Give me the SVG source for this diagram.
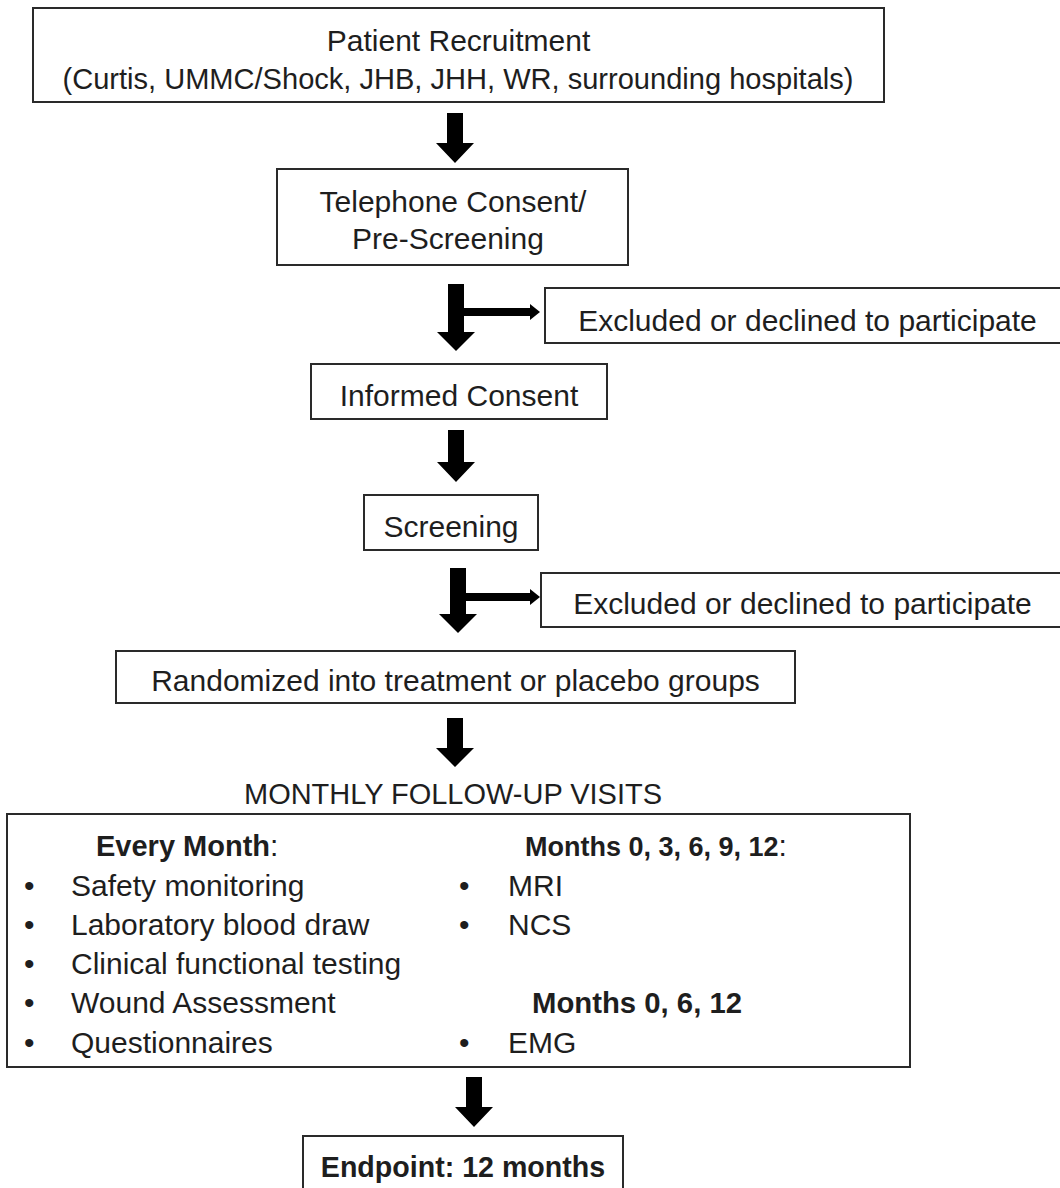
<svg xmlns="http://www.w3.org/2000/svg" width="1060" height="1188" viewBox="0 0 1060 1188">
<style>
.box{fill:#fff;stroke:#2a2a2a;stroke-width:2}
.t{font-family:"Liberation Sans",Arial,sans-serif;font-size:30px;fill:#1e1e1e}
.c{text-anchor:middle}
.b{font-weight:bold}
.arr{fill:#000}
</style>
<rect width="1060" height="1188" fill="#fff"/>
<g id="connectors">
<path class="arr" d="M447,113 H463 V143 H474 L455,163 L436,143 H447 Z"/>
<path class="arr" d="M448,284 H464 V332 H475 L456,351 L437,332 H448 Z"/>
<path class="arr" d="M464,308 H530 V304 L540,312 L530,320 V316 H464 Z"/>
<path class="arr" d="M448,430 H464 V462 H475 L456,482 L437,462 H448 Z"/>
<path class="arr" d="M450,568 H466 V614 H477 L458,633 L439,614 H450 Z"/>
<path class="arr" d="M466,593 H530 V589 L540,597 L530,605 V601 H466 Z"/>
<path class="arr" d="M447,718 H463 V748 H474 L455,767 L436,748 H447 Z"/>
<path class="arr" d="M466,1077 H482 V1107 H493 L474,1127 L455,1107 H466 Z"/>
</g>
<g id="recruitment">
<rect class="box" x="33" y="8" width="851" height="94"/>
<text class="t c" x="458.5" y="51">Patient Recruitment</text>
<text class="t c" x="458" y="89" textLength="791" lengthAdjust="spacingAndGlyphs">(Curtis, UMMC/Shock, JHB, JHH, WR, surrounding hospitals)</text>
</g>
<g id="telephone">
<rect class="box" x="277" y="169" width="351" height="96"/>
<text class="t c" x="453" y="212">Telephone Consent/</text>
<text class="t c" x="448" y="249">Pre-Screening</text>
</g>
<g id="excluded1">
<rect class="box" x="545" y="288" width="530" height="55"/>
<text class="t c" x="807.5" y="331">Excluded or declined to participate</text>
</g>
<g id="informed">
<rect class="box" x="311" y="364" width="296" height="55"/>
<text class="t c" x="459" y="406">Informed Consent</text>
</g>
<g id="screening">
<rect class="box" x="364" y="495" width="174" height="55"/>
<text class="t c" x="451" y="537">Screening</text>
</g>
<g id="excluded2">
<rect class="box" x="541" y="573" width="530" height="54"/>
<text class="t c" x="802.5" y="614">Excluded or declined to participate</text>
</g>
<g id="randomized">
<rect class="box" x="116" y="651" width="679" height="52"/>
<text class="t c" x="455.5" y="691">Randomized into treatment or placebo groups</text>
</g>
<g id="followup">
<text class="t c" x="453" y="804" textLength="418" lengthAdjust="spacingAndGlyphs">MONTHLY FOLLOW-UP VISITS</text>
<rect class="box" x="7" y="814" width="903" height="253"/>
<text class="t" x="96" y="856"><tspan class="b" style="font-size:29px">Every Month</tspan>:</text>
<text class="t" x="24" y="896">•</text><text class="t" x="71" y="896">Safety monitoring</text>
<text class="t" x="24" y="935">•</text><text class="t" x="71" y="935">Laboratory blood draw</text>
<text class="t" x="24" y="974">•</text><text class="t" x="71" y="974">Clinical functional testing</text>
<text class="t" x="24" y="1013">•</text><text class="t" x="71" y="1013">Wound Assessment</text>
<text class="t" x="24" y="1053">•</text><text class="t" x="71" y="1053">Questionnaires</text>
<text class="t" x="525" y="856"><tspan class="b" style="font-size:27px">Months 0, 3, 6, 9, 12</tspan>:</text>
<text class="t" x="459" y="896">•</text><text class="t" x="508" y="896">MRI</text>
<text class="t" x="459" y="935">•</text><text class="t" x="508" y="935">NCS</text>
<text class="t b" x="532" y="1013" style="font-size:29.3px">Months 0, 6, 12</text>
<text class="t" x="459" y="1053">•</text><text class="t" x="508" y="1053">EMG</text>
</g>
<g id="endpoint">
<rect class="box" x="303" y="1136" width="320" height="70"/>
<text class="t c b" x="463" y="1177" style="font-size:28.6px">Endpoint: 12 months</text>
</g>
</svg>
